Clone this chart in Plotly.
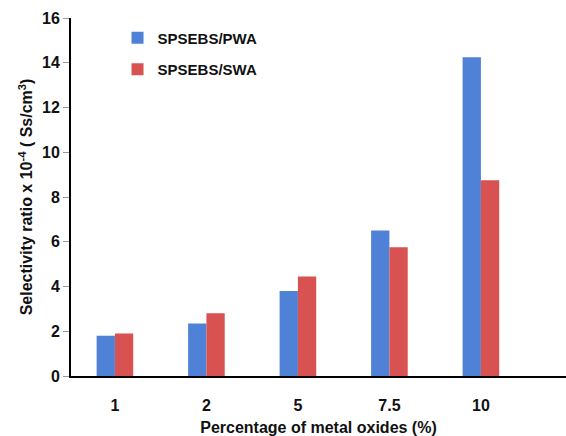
import plotly.graph_objects as go

categories = ["1", "2", "5", "7.5", "10"]
pwa = [1.8, 2.35, 3.8, 6.5, 14.25]
swa = [1.9, 2.8, 4.45, 5.75, 8.75]
series_names = ["SPSEBS/PWA", "SPSEBS/SWA"]
y_ticks = [0, 2, 4, 6, 8, 10, 12, 14, 16]

FONT = "Liberation Sans, Arial, sans-serif"

fig = go.Figure()
fig.add_trace(go.Bar(x=categories, y=pwa, name=series_names[0],
                     marker=dict(color="#4F81D6", line=dict(width=0)),
                     legendgroup="a"))
fig.add_trace(go.Bar(x=categories, y=swa, name=series_names[1],
                     marker=dict(color="#D75250", line=dict(width=0)),
                     legendgroup="b"))

fig.update_layout(
    width=566, height=436,
    margin=dict(l=71, r=0, t=18, b=60, autoexpand=False),
    paper_bgcolor="white", plot_bgcolor="white",
    barmode="group", bargap=0.6, bargroupgap=0,
    font=dict(family=FONT, size=15, color="#111"),
    showlegend=True,
    legend=dict(x=0.094, y=0.99, xanchor="left", yanchor="top",
                bgcolor="rgba(0,0,0,0)", tracegroupgap=9,
                font=dict(family=FONT, size=15, color="#111", weight="bold")),
    xaxis=dict(type="category", range=[-0.48, 4.93], automargin=False,
               showline=True, linecolor="black", linewidth=2,
               ticks="", showgrid=False, zeroline=False,
               ticklabelstandoff=14,
               tickfont=dict(family=FONT, size=16, color="#111", weight="bold"),
               title=dict(text="Percentage of metal oxides (%)", standoff=10,
                          font=dict(family=FONT, size=16, color="#111", weight="bold"))),
    yaxis=dict(range=[0, 16], tickvals=y_ticks, ticktext=[str(v) for v in y_ticks],
               automargin=False,
               showline=True, linecolor="black", linewidth=2,
               ticks="outside", ticklen=6, tickcolor="#999", tickwidth=1,
               showgrid=False, zeroline=False,
               tickfont=dict(family=FONT, size=16, color="#111", weight="bold"),
               title=dict(text="Selectivity ratio x 10<sup>-4</sup> ( Ss/cm<sup>3</sup>)",
                          standoff=5,
                          font=dict(family=FONT, size=16, color="#111", weight="bold"))),
)

fig.write_html("out.html", config={"displayModeBar": False},
               post_script="document.body.style.margin='0';document.body.style.padding='0';")
